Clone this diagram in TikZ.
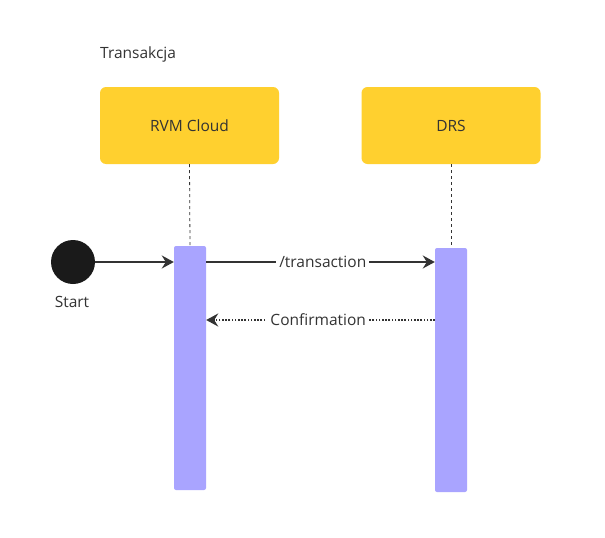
\documentclass[tikz,border=0pt]{standalone}
\usepackage{fontspec}
\setmainfont{Open Sans}
\usetikzlibrary{arrows.meta}
\definecolor{boxy}{HTML}{FFD02F}
\definecolor{barp}{HTML}{A9A4FF}
\definecolor{ink}{HTML}{333333}
\definecolor{startc}{HTML}{1A1A1A}
\tikzset{
  txt/.style={font=\fontsize{15.5}{18}\selectfont, text=ink},
  actor/.style={txt, fill=boxy, rounded corners=6pt, minimum width=179pt, minimum height=77pt, inner sep=0pt},
  actbar/.style={fill=barp, rounded corners=2pt, minimum width=32pt, inner sep=0pt},
  lifeline/.style={dash pattern=on 3pt off 3pt, line width=0.8pt, ink},
  msg/.style={line width=1.8pt, ink, -{Stealth[length=12pt,width=13pt,inset=4pt]}},
  reply/.style={line width=1.8pt, ink, dash pattern=on 1.6pt off 1.6pt, -{Stealth[length=12pt,width=13pt,inset=4pt]}},
  lbl/.style={txt, fill=white, inner sep=3pt},
}
\begin{document}
\begin{tikzpicture}[x=1pt,y=-1pt]
\useasboundingbox (0,0) rectangle (605,538);
\fill[white] (0,0) rectangle (605,538);
\node[txt, anchor=west, inner sep=0pt] (title) at (100,54) {Transakcja};
\node[actor] (rvm) at (189.5,125.5) {RVM Cloud};
\node[actor] (drs) at (451,125.5) {DRS};
\node[actbar, minimum height=244pt] (bar1) at (190,368) {};
\node[actbar, minimum height=244pt] (bar2) at (451,370) {};
\draw[lifeline] (rvm.south) -- (bar1.north);
\draw[lifeline] (drs.south) -- (bar2.north);
\node[circle, fill=startc, minimum size=44pt, inner sep=0pt] (start) at (73,262) {};
\node[txt] (startl) at (72,302) {Start};
\coordinate (b1a) at (bar1.west |- 0,262);
\coordinate (b1o) at (bar1.east |- 0,262);
\coordinate (b2a) at (bar2.west |- 0,262);
\coordinate (b2r) at (bar2.west |- 0,320);
\coordinate (b1r) at (bar1.east |- 0,320);
\draw[msg] (start.east) -- (b1a);
\draw[msg] (b1o) -- node[lbl, pos=0.51] {/transaction} (b2a);
\draw[reply] (b2r) -- node[lbl, pos=0.51] {Confirmation} (b1r);
\end{tikzpicture}
\end{document}
